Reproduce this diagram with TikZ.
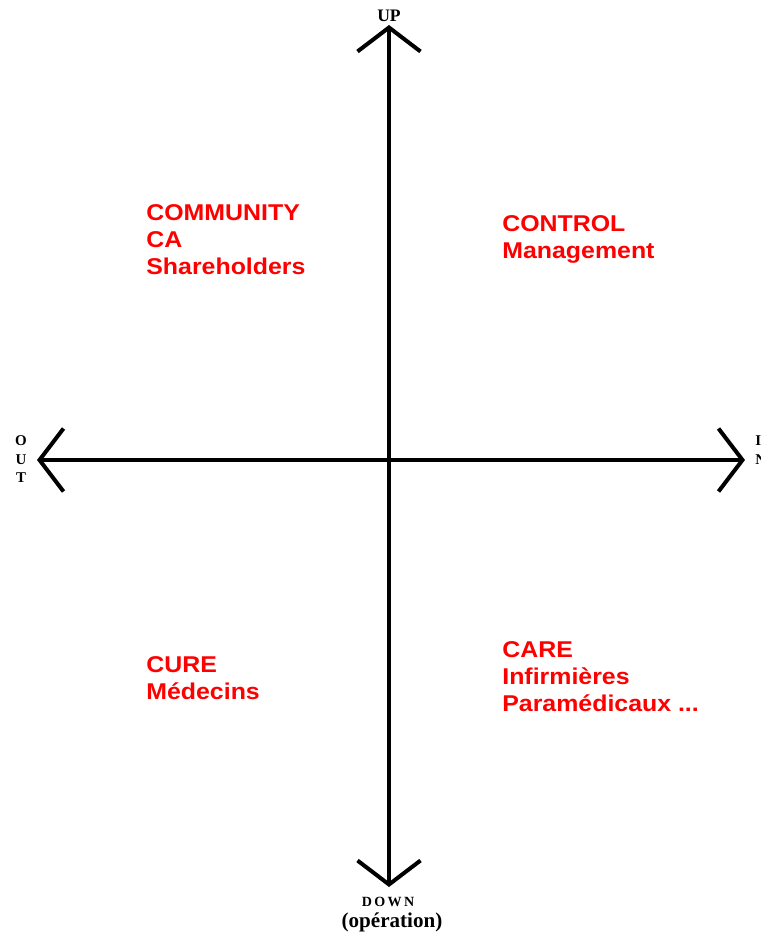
\documentclass[tikz,border=0pt]{standalone}
\usepackage{fontspec}
\usetikzlibrary{arrows.meta}
\newfontfamily\quadfont[FakeStretch=1.09]{Liberation Sans Bold}
\newfontfamily\axisfont{Liberation Serif}
\definecolor{quadRed}{RGB}{255,0,0}

\begin{document}
\begin{tikzpicture}[x=0.02cm, y=-0.02cm,
    axisStyle/.style={line width=0.08cm, {Straight Barb[length=0.48cm, width=1.26cm, line width=0.08cm]}-{Straight Barb[length=0.48cm, width=1.26cm, line width=0.08cm]}},
    quadStyle/.style={anchor=north west, inner sep=0pt, align=left, text=quadRed,
        font=\quadfont\fontsize{13}{15.3}\selectfont},
    axisLblStyle/.style={inner sep=0pt, font=\axisfont\bfseries\fontsize{8.5}{10}\selectfont}]

    \clip (0,0) rectangle (760,935);

    % axis ends and centre
    \coordinate (sfO) at (389, 460);
    \coordinate (sfUp) at (389, 25);
    \coordinate (sfDown) at (389, 887);
    \coordinate (sfOut) at (37, 460);
    \coordinate (sfIn) at (745, 460);

    \draw[axisStyle] (sfOut) -- (sfIn);
    \draw[axisStyle] (sfDown) -- (sfUp);

    % axis labels
    \node[axisLblStyle, font=\axisfont\bfseries\fontsize{10}{12}\selectfont] (lblUp) at (389, 16) {UP};
    \node[axisLblStyle, font=\axisfont\bfseries\fontsize{8}{9}\selectfont] (lblDown) at (388, 902) {D\,O\,W\,N};
    \node[axisLblStyle, font=\axisfont\bfseries\fontsize{12}{14}\selectfont] (lblOper) at (392, 922) {(opération)};
    \node[axisLblStyle] (lblO) at (21, 441) {O};
    \node[axisLblStyle] (lblU) at (21, 460) {U};
    \node[axisLblStyle] (lblT) at (21, 478) {T};
    \node[axisLblStyle, anchor=west] (lblI) at (755, 441) {I};
    \node[axisLblStyle, anchor=west] (lblN) at (755, 460) {N};

    % quadrants
    \node[quadStyle] (community) at (146, 204) {COMMUNITY\\CA\\Shareholders};
    \node[quadStyle] (control) at (502, 215) {CONTROL\\Management};
    \node[quadStyle] (cure) at (146, 656) {CURE\\Médecins};
    \node[quadStyle] (care) at (502, 641) {CARE\\Infirmières\\Paramédicaux ...};
\end{tikzpicture}
\end{document}
